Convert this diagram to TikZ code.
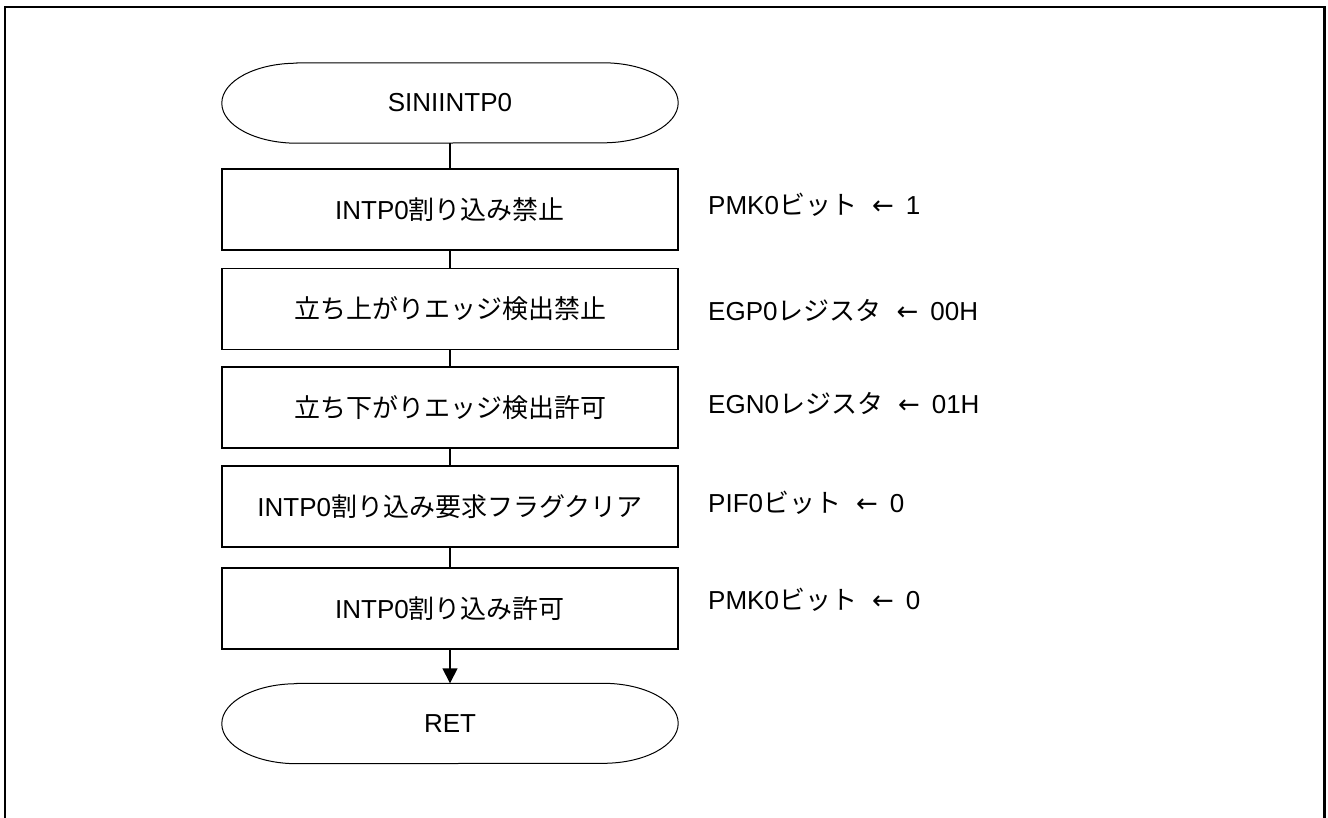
\documentclass[tikz,border=0pt]{standalone}
\usepackage{fontspec}
\setmainfont{Liberation Sans}
\newfontfamily\jpfont{Noto Sans CJK JP}
\newfontfamily\symfont{DejaVu Sans}
\usetikzlibrary{arrows.meta}

\newcommand{\setto}{\hspace{15pt}{\symfont ←}\hspace{12pt}}

\begin{document}
\begin{tikzpicture}[x=1pt,y=-1pt]

    \tikzset{
      stepbox/.style={
        draw,
        line width=1.4pt,
        minimum width=456pt,
        minimum height=81pt,
        inner sep=0pt,
        font=\fontsize{26}{30}\selectfont,
      },
      term/.style={
        minimum width=456pt,
        minimum height=80pt,
        inner sep=0pt,
        font=\fontsize{26}{30}\selectfont,
      },
      note/.style={
        anchor=west,
        inner sep=0pt,
        font=\fontsize{26}{30}\selectfont,
      },
      link/.style={line width=1.4pt},
    }
    \useasboundingbox (0,0) rectangle (1328,817);

	% outer frame
	\draw[line width=2.5pt] (5,820) -- (5,7) -- (1324.5,7) -- (1324.5,820);

	% terminals
	\node[term] (start) at (450,103) {SINIINTP0};
	\node[term] (ret) at (450,723.5) {RET};
	\draw[line width=1pt] ([xshift=75pt]start.north west) -- ([xshift=-75pt]start.north east)
	  arc[start angle=90, end angle=-90, x radius=75pt, y radius=40pt]
	  -- ([xshift=75pt]start.south west)
	  arc[start angle=270, end angle=90, x radius=75pt, y radius=40pt] -- cycle;
	\draw[line width=1pt] ([xshift=75pt]ret.north west) -- ([xshift=-75pt]ret.north east)
	  arc[start angle=90, end angle=-90, x radius=75pt, y radius=40pt]
	  -- ([xshift=75pt]ret.south west)
	  arc[start angle=270, end angle=90, x radius=75pt, y radius=40pt] -- cycle;

	% process steps
	\node[stepbox] (b1) at (450,209.5) {INTP0{\jpfont 割り込み禁止}};
	\node[stepbox] (b2) at (450,309) {\jpfont 立ち上がりエッジ検出禁止};
	\node[stepbox] (b3) at (450,407.5) {\jpfont 立ち下がりエッジ検出許可};
	\node[stepbox] (b4) at (450,506.5) {INTP0{\jpfont 割り込み要求フラグクリア}};
	\node[stepbox] (b5) at (450,608.5) {INTP0{\jpfont 割り込み許可}};

	% register notes
	\node[note] (n1) at (708,205) {PMK0{\jpfont ビット}\setto 1};
	\node[note] (n2) at (708,310) {EGP0{\jpfont レジスタ}\setto 00H};
	\node[note] (n3) at (708,403) {EGN0{\jpfont レジスタ}\setto 01H};
	\node[note] (n4) at (708,503) {PIF0{\jpfont ビット}\setto 0};
	\node[note] (n5) at (708,600) {PMK0{\jpfont ビット}\setto 0};

	% connectors
	\draw[link] (start) -- (b1);
	\draw[link] (b1) -- (b2);
	\draw[link] (b2) -- (b3);
	\draw[link] (b3) -- (b4);
	\draw[link] (b4) -- (b5);
	\draw[link,-{Triangle[length=15pt,width=15pt]}] (b5) -- (ret);

\end{tikzpicture}
\end{document}
